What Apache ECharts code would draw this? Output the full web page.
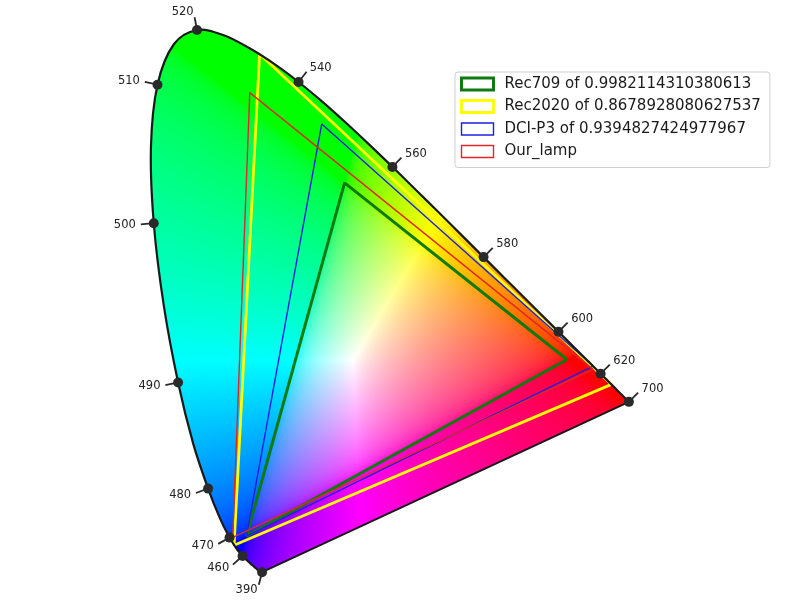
<!DOCTYPE html>
<html><head><meta charset="utf-8">
<script src="https://cdn.jsdelivr.net/npm/echarts@6/dist/echarts.min.js"></script>
<style>html,body{margin:0;padding:0;background:#fff}#c{width:800px;height:600px}</style>
</head><body><div id="c"></div>
<script>
// CIE 1931 2° spectral locus (5 nm)
const locusWavelengths = [390,395,400,405,410,415,420,425,430,435,440,445,450,455,460,465,470,475,480,485,490,495,500,505,510,515,520,525,530,535,540,545,550,555,560,565,570,575,580,585,590,595,600,605,610,615,620,625,630,635,640,645,650,655,660,665,670,675,680,685,690,695,700];
const locusX = [0.1738,0.1736,0.1733,0.1730,0.1726,0.1721,0.1714,0.1703,0.1689,0.1669,0.1644,0.1611,0.1566,0.1510,0.1440,0.1355,0.1241,0.1096,0.0913,0.0687,0.0454,0.0235,0.0082,0.0039,0.0139,0.0389,0.0743,0.1142,0.1547,0.1929,0.2296,0.2658,0.3016,0.3373,0.3731,0.4087,0.4441,0.4788,0.5125,0.5448,0.5752,0.6029,0.6270,0.6482,0.6658,0.6801,0.6915,0.7006,0.7079,0.7140,0.7190,0.7230,0.7260,0.7283,0.7300,0.7311,0.7320,0.7327,0.7334,0.7340,0.7344,0.7346,0.7347];
const locusY = [0.0049,0.0049,0.0048,0.0048,0.0048,0.0048,0.0051,0.0058,0.0069,0.0086,0.0109,0.0138,0.0177,0.0227,0.0297,0.0399,0.0578,0.0868,0.1327,0.2007,0.2950,0.4127,0.5384,0.6548,0.7502,0.8120,0.8338,0.8262,0.8059,0.7816,0.7543,0.7243,0.6923,0.6589,0.6245,0.5896,0.5547,0.5202,0.4866,0.4544,0.4242,0.3965,0.3725,0.3514,0.3340,0.3197,0.3083,0.2993,0.2920,0.2859,0.2809,0.2770,0.2740,0.2717,0.2700,0.2689,0.2680,0.2673,0.2666,0.2660,0.2656,0.2654,0.2653];
const labelWavelengths = [390,460,470,480,490,500,510,520,540,560,580,600,620,700];

// gamut triangles (R, G, B) in xy
const gamutNames = ['Rec709 of 0.9982114310380613','Rec2020 of 0.8678928080627537','DCI-P3 of 0.9394827424977967','Our_lamp'];
const rec709X = [0.640,0.300,0.150];  const rec709Y = [0.330,0.600,0.060];
const rec2020X = [0.708,0.170,0.131]; const rec2020Y = [0.292,0.797,0.046];
const dciP3X = [0.680,0.265,0.150];   const dciP3Y = [0.320,0.690,0.060];
const lampX = [0.680,0.155,0.129];    const lampY = [0.315,0.738,0.058];

// ---- styles ----
const gamutColors = ['#0f7a0f','#ffff00','#2020e0','#e02828'];
const gamutWidths = [3,2.8,1.4,1.4];
const labelDirOverride = {390: [-0.25,-0.97]};
const FONT = '"DejaVu Sans", sans-serif';

function closed(xs, ys){ const d = xs.map((x,i)=>[x, ys[i]]); d.push([xs[0], ys[0]]); return d; }
const gamutData = [closed(rec709X,rec709Y), closed(rec2020X,rec2020Y), closed(dciP3X,dciP3Y), closed(lampX,lampY)];

const n = locusWavelengths.length;
const labelData = labelWavelengths.map(w=>{
  const i = locusWavelengths.indexOf(w);
  const a = Math.max(0,i-1), b = Math.min(n-1,i+1);
  const tx = locusX[b]-locusX[a], ty = locusY[b]-locusY[a];
  let nx = -ty, ny = tx;
  const ex = locusX[i]-1/3, ey = locusY[i]-1/3;
  if (nx*ex+ny*ey < 0){ nx=-nx; ny=-ny; }
  if (labelDirOverride[w]){ nx = labelDirOverride[w][0]; ny = labelDirOverride[w][1]; }
  const L = Math.hypot(nx,ny);
  return [locusX[i], locusY[i], w, nx/L, ny/L];
});

const SMOOTH = 0.35;
function smoothBezier(points, smooth){
  const cps = [];
  for (let i=0;i<points.length;i++){
    const p = points[i];
    if (i===0 || i===points.length-1){ cps.push([p[0],p[1]]); continue; }
    const pr = points[i-1], nx = points[i+1];
    const vx = (nx[0]-pr[0])*smooth, vy = (nx[1]-pr[1])*smooth;
    let d0 = Math.hypot(p[0]-pr[0], p[1]-pr[1]), d1 = Math.hypot(p[0]-nx[0], p[1]-nx[1]);
    const s = d0+d1; if (s!==0){ d0/=s; d1/=s; }
    cps.push([p[0]-vx*d0, p[1]-vy*d0]);
    cps.push([p[0]+vx*d1, p[1]+vy*d1]);
  }
  return cps;
}

function enc(c){ return c <= 0.0031308 ? 12.92*c : 1.055*Math.pow(c,1/2.4)-0.055; }

let fillCanvas = null, fillKey = '';
function renderFill(params, api){
  const pts = locusX.map((x,i)=>api.coord([x, locusY[i]]));
  const o = api.coord([0,0]), u = api.coord([1,1]);
  const sx = u[0]-o[0], sy = u[1]-o[1];
  let minX=Infinity,minY=Infinity,maxX=-Infinity,maxY=-Infinity;
  pts.forEach(p=>{minX=Math.min(minX,p[0]);minY=Math.min(minY,p[1]);maxX=Math.max(maxX,p[0]);maxY=Math.max(maxY,p[1]);});
  minX=Math.floor(minX)-2; minY=Math.floor(minY)-2; maxX=Math.ceil(maxX)+2; maxY=Math.ceil(maxY)+2;
  const W = maxX-minX, H = maxY-minY;
  const key = [minX,minY,W,H,sx,sy].join(',');
  if (key !== fillKey){
    fillKey = key;
    const cv = document.createElement('canvas'); cv.width=W; cv.height=H;
    const ctx = cv.getContext('2d');
    const img = ctx.createImageData(W,H);
    const d = img.data;
    for (let j=0;j<H;j++){
      const y = (minY+j+0.5-o[1])/sy;
      for (let i=0;i<W;i++){
        const x = (minX+i+0.5-o[0])/sx;
        const k = (j*W+i)*4;
        const yy = Math.max(y, 0.002);
        const X = x/yy, Y = 1, Z = (1-x-yy)/yy;
        let r = 3.2406*X-1.5372*Y-0.4986*Z;
        let g = -0.9689*X+1.8758*Y+0.0415*Z;
        let b = 0.0557*X-0.2040*Y+1.0570*Z;
        r=enc(r); g=enc(g); b=enc(b);
        const m = Math.max(r,g,b);
        r=Math.min(1,Math.max(0,r/m)); g=Math.min(1,Math.max(0,g/m)); b=Math.min(1,Math.max(0,b/m));
        d[k]=Math.round(r*255); d[k+1]=Math.round(g*255); d[k+2]=Math.round(b*255); d[k+3]=255;
      }
    }
    ctx.putImageData(img,0,0);
    ctx.globalCompositeOperation='destination-in';
    const lp = pts.map(p=>[p[0]-minX, p[1]-minY]);
    const cps = smoothBezier(lp, SMOOTH);
    ctx.beginPath(); ctx.moveTo(lp[0][0], lp[0][1]);
    for (let i=0;i<lp.length-1;i++){
      const c1=cps[i*2], c2=cps[i*2+1], p=lp[i+1];
      ctx.bezierCurveTo(c1[0],c1[1],c2[0],c2[1],p[0],p[1]);
    }
    ctx.closePath(); ctx.fillStyle='#000'; ctx.fill();
    fillCanvas = cv;
  }
  return {type:'image', silent:true, style:{image:fillCanvas, x:minX, y:minY, width:W, height:H}};
}

function renderOutline(params, api){
  const pts = locusX.map((x,i)=>api.coord([x, locusY[i]]));
  return {type:'group', silent:true, children:[
    {type:'polyline', shape:{points:pts, smooth:SMOOTH}, style:{stroke:'#1a1a1a', lineWidth:2.2, fill:'none'}},
    {type:'line', shape:{x1:pts[n-1][0], y1:pts[n-1][1], x2:pts[0][0], y2:pts[0][1]}, style:{stroke:'#1a1a1a', lineWidth:2}}
  ]};
}

function renderLabel(params, api){
  const p = api.coord([api.value(0), api.value(1)]);
  const w = api.value(2), nx = api.value(3), ny = -api.value(4);
  return {type:'group', silent:true, children:[
    {type:'line', shape:{x1:p[0], y1:p[1], x2:p[0]+nx*13, y2:p[1]+ny*13}, style:{stroke:'#2a2a2a', lineWidth:1.8}},
    {type:'text', style:{text:String(w), x:p[0]+nx*18, y:p[1]+ny*18, align: nx>=0?'left':'right', verticalAlign:'middle', fill:'#222', fontSize:11.5, fontFamily:FONT}}
  ]};
}

const series = [
  {type:'custom', name:'fill', renderItem:renderFill, data:[[0,0]], z:1, silent:true, clip:false}
];
gamutNames.forEach((nm,i)=>{
  series.push({type:'line', name:nm, data:gamutData[i], symbol:'none', z:2+i*0.01, silent:true,
    lineStyle:{color:gamutColors[i], width:gamutWidths[i]}, itemStyle:{color:gamutColors[i]}, clip:false});
});
series.push({type:'custom', name:'locus', renderItem:renderOutline, data:[[0,0]], z:3, silent:true, clip:false});
series.push({type:'custom', name:'ticks', renderItem:renderLabel, data:labelData, z:4, silent:true, clip:false,
  encode:{x:0,y:1}});
series.push({type:'scatter', name:'dots', data:labelData.map(d=>[d[0],d[1]]), symbol:'circle', symbolSize:10, z:5, silent:true,
  itemStyle:{color:'#2a2a2a', opacity:1}});

const chart = echarts.init(document.getElementById('c'));
chart.setOption({
  animation:false,
  backgroundColor:'#ffffff',
  grid:{left:83, top:19.4, width:654, height:556},
  xAxis:{type:'value', min:-0.1, max:0.9, show:false},
  yAxis:{type:'value', min:0, max:0.85, show:false},
  legend:{
    left:455, top:72, orient:'vertical', selectedMode:false,
    backgroundColor:'#fff', borderColor:'#cfcfcf', borderWidth:1, borderRadius:3,
    padding:[4,9,8,5], itemGap:6.5, itemWidth:32, itemHeight:12,
    textStyle:{fontSize:15, fontFamily:FONT, color:'#1a1a1a', lineHeight:16, padding:[0,0,0,6]},
    data: gamutNames.map((nm,i)=>({name:nm, icon:'rect',
      itemStyle:{color:'rgba(0,0,0,0)', borderColor:gamutColors[i], borderWidth:gamutWidths[i]}}))
  },
  series: series
});
</script></body></html>
